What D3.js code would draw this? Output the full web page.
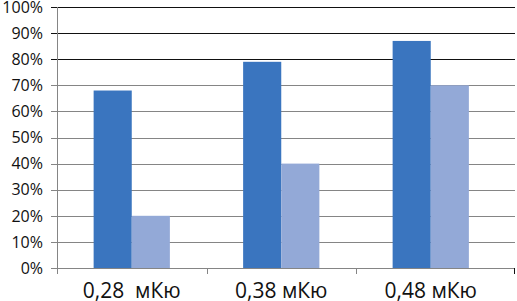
<!DOCTYPE html>
<html>
<head>
<meta charset="utf-8">
<script src="https://cdn.jsdelivr.net/npm/d3@7"></script>
<style>
  body { margin: 0; background: #fff; }
  svg { display: block; font-family: "Open Sans", sans-serif; }
</style>
</head>
<body>
<svg id="svg" width="517" height="301"></svg>
<script>
const categories = ["0,28  мКю", "0,38 мКю", "0,48 мКю"];
const seriesA = [68, 79, 87];
const seriesB = [20, 40, 70];
const yTicks = [0, 10, 20, 30, 40, 50, 60, 70, 80, 90, 100];

const width = 517;
const height = 301;
const margin = {top: 7, left: 57, bottom: 33, right: 2};

const svg = d3.select("#svg");

const y = d3.scaleLinear()
    .domain([0, 100])
    .range([height - margin.bottom, margin.top]);

const x0 = d3.scaleBand()
    .domain(categories)
    .range([margin.left, 505.5])
    .paddingInner(0.49)
    .paddingOuter(0.245);

const x1 = d3.scaleBand()
    .domain(["a", "b"])
    .range([0, x0.bandwidth()]);

const plotRight = width - margin.right;

// gridlines
svg.append("g")
    .selectAll("line")
    .data(yTicks)
    .join("line")
    .attr("x1", margin.left - 6)
    .attr("x2", plotRight)
    .attr("y1", d => Math.round(y(d)) + 0.5)
    .attr("y2", d => Math.round(y(d)) + 0.5)
    .attr("stroke", d => d >= 80 ? "#111" : "#858585")
    .attr("stroke-width", 1);

// y labels
svg.append("g")
    .selectAll("text")
    .data(yTicks)
    .join("text")
    .attr("x", 43)
    .attr("y", d => y(d))
    .attr("dy", "0.36em")
    .attr("text-anchor", "end")
    .attr("font-size", 16)
    .attr("fill", "#111")
    .text(d => d + "%");

// bars
const groups = svg.append("g")
    .selectAll("g")
    .data(categories)
    .join("g")
    .attr("transform", d => "translate(" + x0(d) + ",0)");

groups.append("rect")
    .attr("x", x1("a"))
    .attr("width", x1.bandwidth())
    .attr("y", (d, i) => y(seriesA[i]))
    .attr("height", (d, i) => y(0) - y(seriesA[i]))
    .attr("fill", "#3a75bf");

groups.append("rect")
    .attr("x", x1("b"))
    .attr("width", x1.bandwidth())
    .attr("y", (d, i) => y(seriesB[i]))
    .attr("height", (d, i) => y(0) - y(seriesB[i]))
    .attr("fill", "#93a9d7");

// axes lines
svg.append("line")
    .attr("x1", margin.left + 0.5).attr("x2", margin.left + 0.5)
    .attr("y1", margin.top).attr("y2", y(0) + 6)
    .attr("stroke", "#858585");

const boundaries = categories.map(c => x0(c) - x0.step() * x0.paddingInner() / 2).slice(1);
boundaries.push(plotRight - 1);

svg.append("g")
    .selectAll("line")
    .data(boundaries)
    .join("line")
    .attr("x1", d => Math.round(d) + 0.5)
    .attr("x2", d => Math.round(d) + 0.5)
    .attr("y1", Math.round(y(0)))
    .attr("y2", Math.round(y(0)) + 6)
    .attr("stroke", d => d > 510 ? "#111" : "#858585");

// x labels
svg.append("g")
    .selectAll("text")
    .data(categories)
    .join("text")
    .attr("x", d => x0(d) + x0.bandwidth() / 2)
    .attr("y", 298)
    .attr("text-anchor", "middle")
    .attr("font-size", 21)
    .attr("fill", "#111")
    .style("white-space", "pre")
    .text(d => d);
</script>
</body>
</html>
